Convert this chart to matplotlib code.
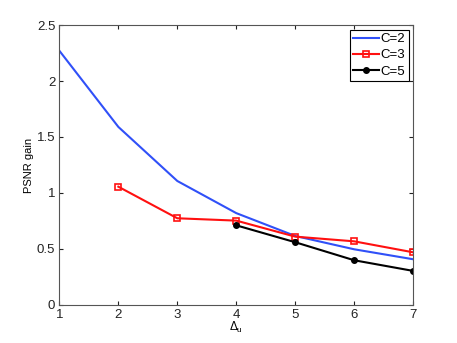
import matplotlib
matplotlib.use("Agg")
import matplotlib.pyplot as plt

x_c2 = [1, 2, 3, 4, 5, 6, 7]
y_c2 = [2.27, 1.59, 1.107, 0.82, 0.616, 0.497, 0.408]
x_c3 = [2, 3, 4, 5, 6, 7]
y_c3 = [1.056, 0.774, 0.753, 0.61, 0.568, 0.47]
x_c5 = [4, 5, 6, 7]
y_c5 = [0.711, 0.56, 0.399, 0.304]
xticks = [1, 2, 3, 4, 5, 6, 7]
yticks = [0, 0.5, 1, 1.5, 2, 2.5]
ytick_labels = ["0", "0.5", "1", "1.5", "2", "2.5"]

plt.rcParams['font.family'] = ['Liberation Sans', 'DejaVu Sans']
fig = plt.figure(figsize=(4.57, 3.43), dpi=100)
ax = fig.add_axes([0.13, 0.111, 0.774, 0.816])

ax.plot(x_c2, y_c2, color='#3050f8', lw=1.5, label='C=2')
ax.plot(x_c3, y_c3, color='#ff1010', lw=1.5, marker='s', ms=5, mfc='none', mew=1.2, label='C=3')
ax.plot(x_c5, y_c5, color='black', lw=1.5, marker='o', ms=4, label='C=5')

ax.set_xlim(1, 7)
ax.set_ylim(0, 2.5)
ax.set_xticks(xticks)
ax.set_yticks(yticks)
ax.set_yticklabels(ytick_labels)
ax.tick_params(direction='in', length=3, labelsize=9.5, colors='#222222', top=True, right=True, pad=3)
for s in ax.spines.values():
    s.set_color('#555555')
    s.set_linewidth(0.8)
ax.set_ylabel('PSNR gain', fontsize=8, labelpad=2)
ax.set_xlabel(r'$\mathregular{\Delta_u}$', fontsize=8.5, labelpad=-1)

leg = ax.legend(loc='upper right', fontsize=9.5, fancybox=False, framealpha=1,
                edgecolor='black', borderpad=0.25, labelspacing=0.3, handlelength=2.0,
                handletextpad=0.1, borderaxespad=0.35)
leg.get_frame().set_linewidth(0.8)

fig.savefig('out.png', dpi=100)
